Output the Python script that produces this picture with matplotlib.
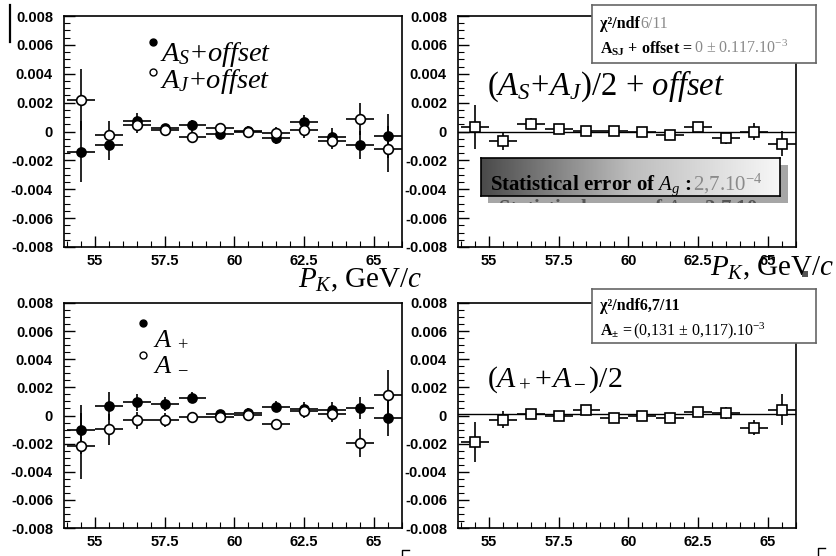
import matplotlib
matplotlib.use("Agg")
import matplotlib.pyplot as plt
import numpy as np
from matplotlib.ticker import FixedLocator, MultipleLocator, FuncFormatter
from matplotlib.colors import LinearSegmentedColormap
from matplotlib.transforms import offset_copy
from matplotlib.patches import Rectangle
from matplotlib.lines import Line2D

plt.rcParams['font.family'] = 'Liberation Sans'
plt.rcParams['font.weight'] = 'bold'
plt.rcParams['font.size'] = 10.5
plt.rcParams['mathtext.fontset'] = 'custom'
plt.rcParams['mathtext.rm'] = 'Liberation Serif:weight=normal'
plt.rcParams['mathtext.it'] = 'Liberation Serif:slant=italic:weight=normal'
plt.rcParams['mathtext.bf'] = 'Liberation Serif:weight=bold'

# kaon momentum bins (GeV/c), half width 0.5
p_k = [54.5, 55.5, 56.5, 57.5, 58.5, 59.5, 60.5, 61.5, 62.5, 63.5, 64.5, 65.5]

# asymmetries in units of 1e-3
a_s = [-1.4, -0.95, 0.7, 0.24, 0.42, -0.16, 0.05, -0.47, 0.64, -0.35, -0.94, -0.31]
a_s_err = [2.1, 1.05, 0.6, 0.3, 0.4, 0.3, 0.3, 0.4, 0.5, 0.6, 0.95, 1.5]
a_j = [2.2, -0.24, 0.47, 0.12, -0.35, 0.24, 0.0, -0.07, 0.07, -0.64, 0.87, -1.22]
a_j_err = [2.1, 0.95, 0.6, 0.3, 0.4, 0.3, 0.3, 0.4, 0.5, 0.6, 1.1, 1.6]

a_sj = [0.31, -0.65, 0.55, 0.19, 0.02, 0.02, 0.0, -0.24, 0.31, -0.46, 0.0, -0.84]
a_sj_err = [1.5, 0.6, 0.4, 0.3, 0.25, 0.25, 0.25, 0.3, 0.35, 0.4, 0.6, 0.85]

a_plus = [-1.0, 0.68, 0.93, 0.81, 1.28, 0.12, 0.2, 0.63, 0.47, 0.42, 0.53, -0.19]
a_plus_err = [1.75, 1.0, 0.6, 0.5, 0.4, 0.3, 0.3, 0.4, 0.5, 0.55, 0.8, 1.25]
a_minus = [-2.2, -0.98, -0.35, -0.35, -0.12, -0.12, 0.07, -0.63, 0.35, 0.12, -1.98, 1.44]
a_minus_err = [2.35, 1.1, 0.6, 0.5, 0.4, 0.3, 0.3, 0.4, 0.5, 0.55, 1.0, 1.8]

a_pm = [-1.86, -0.31, 0.1, 0.0, 0.4, -0.19, 0.0, -0.19, 0.24, 0.17, -0.86, 0.4]
a_pm_err = [1.43, 0.6, 0.35, 0.3, 0.25, 0.25, 0.25, 0.3, 0.35, 0.4, 0.55, 1.1]

sj_fit = 0.0
pm_fit = 0.131

x_ticks = [55, 57.5, 60, 62.5, 65]
x_tick_labels = ['55', '57.5', '60', '62.5', '65']

W, H = 837, 556
fig = plt.figure(figsize=(W / 100, H / 100), dpi=100)
renderer = fig.canvas.get_renderer()
SERIF = 'Liberation Serif'


def px_axes(x0, y0, x1, y1):
    return fig.add_axes([x0 / W, 1 - y1 / H, (x1 - x0) / W, (y1 - y0) / H])


def style(ax):
    ax.set_xlim(53.9, 66.0)
    ax.set_ylim(-0.008, 0.008)
    ax.xaxis.set_major_locator(FixedLocator(x_ticks))
    ax.xaxis.set_minor_locator(MultipleLocator(0.5))
    ax.set_xticklabels(x_tick_labels)
    ax.yaxis.set_major_locator(MultipleLocator(0.002))
    ax.yaxis.set_minor_locator(MultipleLocator(0.0005))
    ax.yaxis.set_major_formatter(
        FuncFormatter(lambda v, _: '0' if abs(v) < 1e-9 else f'{v:.3f}'))
    ax.tick_params(which='both', direction='in', top=False, right=False)
    ax.tick_params(which='major', length=8, width=1)
    ax.tick_params(which='minor', length=4, width=0.8)
    ax.tick_params(axis='y', pad=8)
    ax.tick_params(axis='x', pad=5)
    for sp in ax.spines.values():
        sp.set_linewidth(1.2)


def points(ax, y, yerr, marker, filled, ms):
    ax.errorbar(p_k, np.array(y) * 1e-3, xerr=0.5, yerr=np.array(yerr) * 1e-3,
                fmt=marker, ms=ms, mfc='black' if filled else 'white',
                mec='black', mew=1.2, ecolor='black', elinewidth=1.2,
                capsize=0, zorder=3)


def serif_text(ax, x, y, s, size):
    ax.text(x, y, s, transform=ax.transAxes, fontsize=size, fontfamily=SERIF,
            fontweight='normal', va='baseline')


def text_run(ax, x, y, pieces, size):
    # consecutive pieces of text sharing a baseline, each with its own colour
    dx = 0
    for s, color, weight in pieces:
        tr = offset_copy(ax.transAxes, fig=fig, x=dx, y=0, units='dots')
        t = ax.text(x, y, s, transform=tr, color=color, fontsize=size,
                    fontweight=weight, fontfamily=SERIF, va='baseline', ha='left')
        dx += t.get_window_extent(renderer=renderer).width


ax1 = px_axes(64, 16, 402, 247)
ax2 = px_axes(458, 16, 796, 247)
ax3 = px_axes(64, 303, 402, 528)
ax4 = px_axes(458, 303, 796, 528)
for ax in (ax1, ax2, ax3, ax4):
    style(ax)

# A_S and A_J
points(ax1, a_s, a_s_err, 'o', True, 6.5)
points(ax1, a_j, a_j_err, 'o', False, 7)
ax1.plot([0.2625], [0.887], 'o', ms=5, mfc='black', mec='black', transform=ax1.transAxes)
ax1.plot([0.2625], [0.758], 'o', ms=5, mfc='white', mec='black', mew=1, transform=ax1.transAxes)
serif_text(ax1, 0.283, 0.805, r'$A_S\!+\!offset$', 20.5)
serif_text(ax1, 0.283, 0.69, r'$A_J\!+\!offset$', 20.5)

# average of A_S and A_J
ax2.axhline(sj_fit * 1e-3, color='black', lw=1, zorder=2)
points(ax2, a_sj, a_sj_err, 's', False, 6.5)
serif_text(ax2, 0.086, 0.658, r'$(A_S\!+\!A_J)/2$ + $offset$', 23.5)

# A+ and A-
points(ax3, a_plus, a_plus_err, 'o', True, 6.5)
points(ax3, a_minus, a_minus_err, 'o', False, 7)
ax3.plot([0.234], [0.911], 'o', ms=5, mfc='black', mec='black', transform=ax3.transAxes)
ax3.plot([0.234], [0.769], 'o', ms=5, mfc='white', mec='black', mew=1, transform=ax3.transAxes)
serif_text(ax3, 0.264, 0.81, r'$A_{\ +}$', 19)
serif_text(ax3, 0.264, 0.70, r'$A_{\ -}$', 19)

# average of A+ and A-
ax4.axhline(pm_fit * 1e-3, color='black', lw=1, zorder=2)
points(ax4, a_pm, a_pm_err, 's', False, 6.5)
serif_text(ax4, 0.086, 0.627, r'$(A_+\!+\!A_-)/2$', 21.5)

# fit result boxes
grey = '#8a8a8a'
for (y0, y1), lines in (
        ((5, 63), [(0.6, [('χ²/ndf', 'black', 'bold'), ('6/11', grey, 'normal')]),
                   (0.17, [(r'$\mathbf{A_{SJ}}$ + offset = ', 'black', 'bold'),
                           (r'0 ± 0.117.10$^{-3}$', grey, 'normal')])]),
        ((289, 343), [(0.62, [('χ²/ndf6,7/11', 'black', 'bold')]),
                      (0.14, [(r'$\mathbf{A_{\pm}}$ = ', 'black', 'bold'),
                              (r'(0,131 ± 0,117).10$^{-3}$', 'black', 'normal')])])):
    bx = px_axes(592, y0, 816, y1)
    bx.set_xticks([])
    bx.set_yticks([])
    bx.set_facecolor('white')
    for sp in bx.spines.values():
        sp.set_color('#666666')
        sp.set_linewidth(1.2)
    for yy, pieces in lines:
        text_run(bx, 0.036, yy, pieces, 11.5)

# statistical error banner with drop shadow
sax = px_axes(488, 165, 788, 203)
sax.set_facecolor('#a6a6a6')
sax.set_xticks([])
sax.set_yticks([])
for sp in sax.spines.values():
    sp.set_visible(False)
sax.text(0.035, -0.3, r'Statistical error of $A_g$ : 2,7.10', transform=sax.transAxes,
         fontsize=15, fontfamily=SERIF, fontweight='bold', color='#555555',
         va='baseline', clip_on=True)

gax = px_axes(481, 158, 780, 196)
cmap = LinearSegmentedColormap.from_list('banner', ['#4a4a4a', '#bdbdbd', '#f7f7f7'])
gax.imshow(np.linspace(0, 1, 256).reshape(1, -1), aspect='auto', cmap=cmap,
           extent=[0, 1, 0, 1])
gax.set_xticks([])
gax.set_yticks([])
for sp in gax.spines.values():
    sp.set_linewidth(1.2)
text_run(gax, 0.03, 0.16, [(r'Statistical error of $A_g$ : ', 'black', 'bold'),
                           (r'2,7.10$^{-4}$', grey, 'normal')], 15)

# axis titles
for x, y in ((298, 287), (710, 275)):
    fig.text(x / W, 1 - y / H, r'$P_K$, GeV/$c$', fontsize=21, fontfamily=SERIF,
             fontweight='normal', va='baseline', ha='left')

fig.patches.append(Rectangle((802 / W, 1 - 277 / H), 6 / W, 6 / H, transform=fig.transFigure,
                             facecolor='#555555', edgecolor='none', figure=fig))
fig.lines.append(Line2D([10 / W, 10 / W], [1 - 5 / H, 1 - 42 / H], transform=fig.transFigure,
                        color='black', lw=1.6))
for x0, y0 in ((402, 550), (818, 548)):
    fig.lines.append(Line2D([x0 / W, x0 / W, (x0 + 7) / W], [0, 1 - y0 / H, 1 - y0 / H],
                            transform=fig.transFigure, color='black', lw=1))

fig.savefig('out.png', dpi=100)
